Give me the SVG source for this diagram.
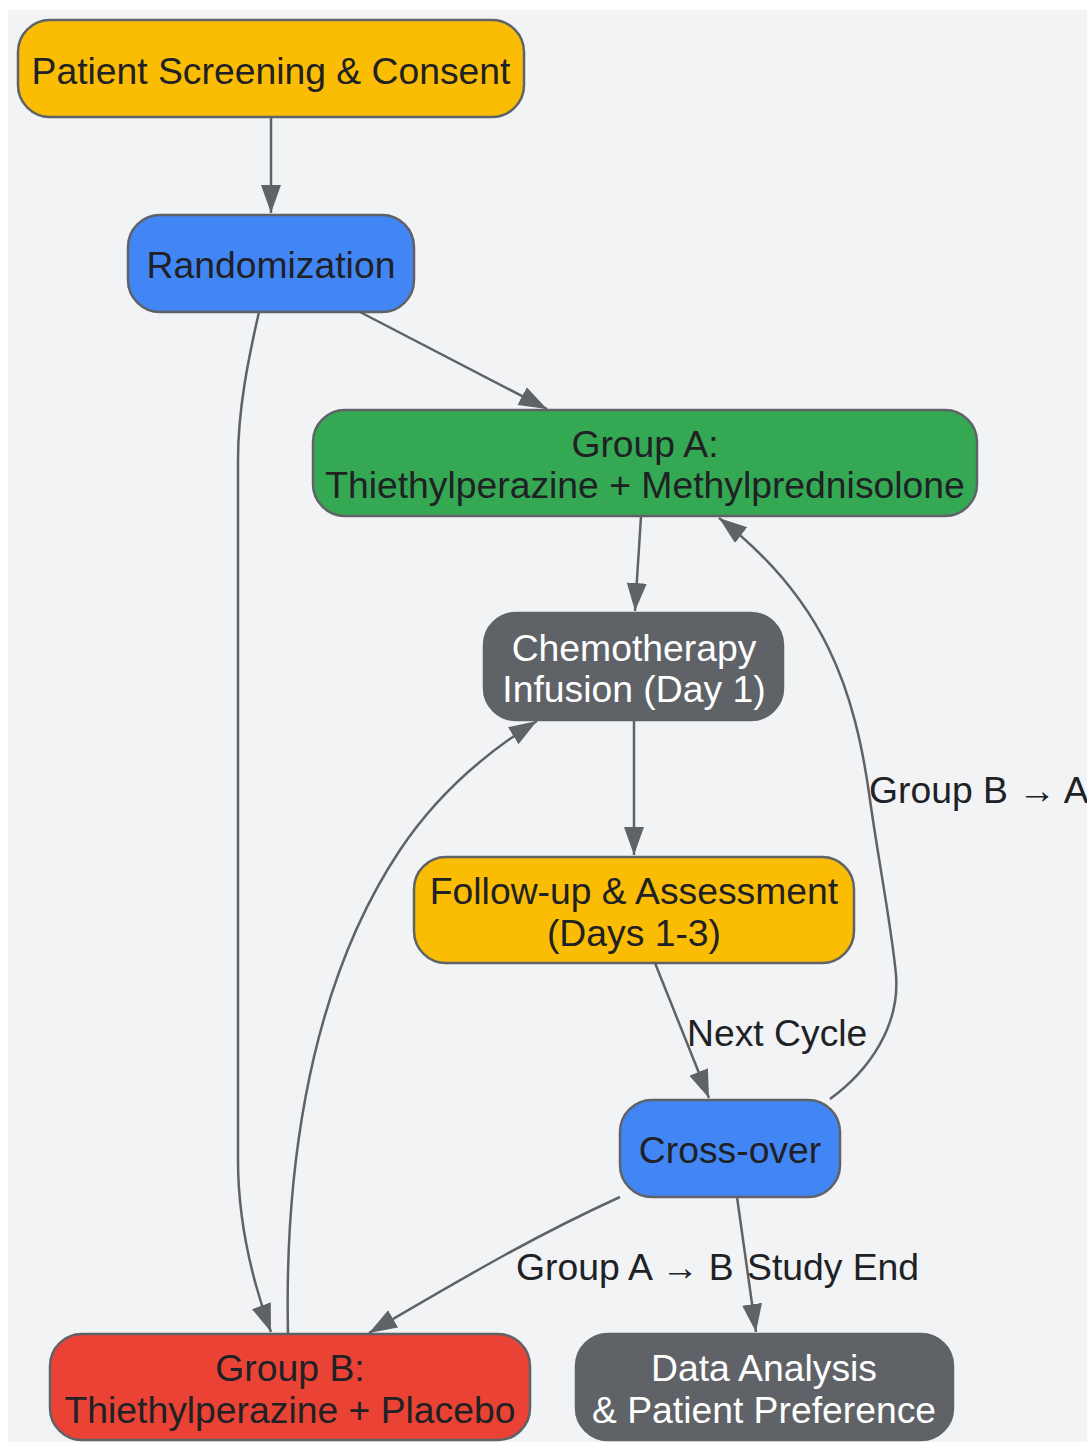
<svg xmlns="http://www.w3.org/2000/svg" width="1087" height="1442" viewBox="0 0 1087 1442">
<defs>
<marker id="arr" markerUnits="userSpaceOnUse" markerWidth="30" markerHeight="22" refX="28" refY="10" orient="auto">
<path d="M0,0 L28,10 L0,20 z" fill="#5f6368"/>
</marker>
<style>
.n rect{stroke:#5f6368;stroke-width:2.5}
.t{font-family:"Liberation Sans",Arial,sans-serif;font-size:37.3px;fill:#202124;text-anchor:middle}
.w{fill:#ffffff}
.l{font-family:"Liberation Sans",Arial,sans-serif;font-size:37.3px;fill:#202124}
.e path{fill:none;stroke:#5f6368;stroke-width:2.5;marker-end:url(#arr)}
</style>
</defs>
<rect x="8" y="10" width="1079" height="1432" fill="#f1f3f5"/>
<g id="connectors" class="e">
<path d="M271,117 L271,213"/>
<path d="M360,312 L547,409"/>
<path d="M259,312 C248,360 238,410 238,460 L238,1160 C238,1220 252,1280 271,1332"/>
<path d="M641,516 L635,611"/>
<path d="M634,720 L634,855"/>
<path d="M655,963 L709,1098"/>
<path d="M830,1099 C870,1070 900,1025 896,975 C892,930 880,870 870,800 C855,690 825,600 719,518"/>
<path d="M620,1197 C530,1238 460,1280 369,1333"/>
<path d="M737,1197 L756,1332"/>
<path d="M288,1334 C285,1200 300,1000 400,850 C440,790 490,750 537,721"/>
</g>
<g id="labels">
<text class="l" x="869" y="803">Group B → A</text>
<text class="l" x="687" y="1046">Next Cycle</text>
<text class="l" x="516" y="1280">Group A → B</text>
<text class="l" x="747" y="1280">Study End</text>
</g>
<g id="screening" class="n">
<rect x="18" y="20" width="506" height="97" rx="32" fill="#fbbc04"/>
<text class="t" x="271" y="84">Patient Screening &amp; Consent</text>
</g>
<g id="randomization" class="n">
<rect x="128" y="215" width="286" height="97" rx="32" fill="#4285f4"/>
<text class="t" x="271" y="278">Randomization</text>
</g>
<g id="groupA" class="n">
<rect x="313" y="410" width="664" height="106" rx="32" fill="#34a853"/>
<text class="t" x="645" y="457">Group A:</text>
<text class="t" x="645" y="498">Thiethylperazine + Methylprednisolone</text>
</g>
<g id="chemo" class="n">
<rect x="484" y="613" width="299" height="107" rx="32" fill="#5f6368"/>
<text class="t w" x="634" y="661">Chemotherapy</text>
<text class="t w" x="634" y="702">Infusion (Day 1)</text>
</g>
<g id="followup" class="n">
<rect x="414" y="857" width="440" height="106" rx="32" fill="#fbbc04"/>
<text class="t" x="634" y="904">Follow-up &amp; Assessment</text>
<text class="t" x="634" y="946">(Days 1-3)</text>
</g>
<g id="crossover" class="n">
<rect x="620" y="1100" width="220" height="97" rx="32" fill="#4285f4"/>
<text class="t" x="730" y="1163">Cross-over</text>
</g>
<g id="groupB" class="n">
<rect x="50" y="1334" width="480" height="106" rx="32" fill="#ea4335"/>
<text class="t" x="290" y="1381">Group B:</text>
<text class="t" x="290" y="1423">Thiethylperazine + Placebo</text>
</g>
<g id="analysis" class="n">
<rect x="576" y="1334" width="377" height="106" rx="32" fill="#5f6368"/>
<text class="t w" x="764" y="1381">Data Analysis</text>
<text class="t w" x="764" y="1423">&amp; Patient Preference</text>
</g>
</svg>
